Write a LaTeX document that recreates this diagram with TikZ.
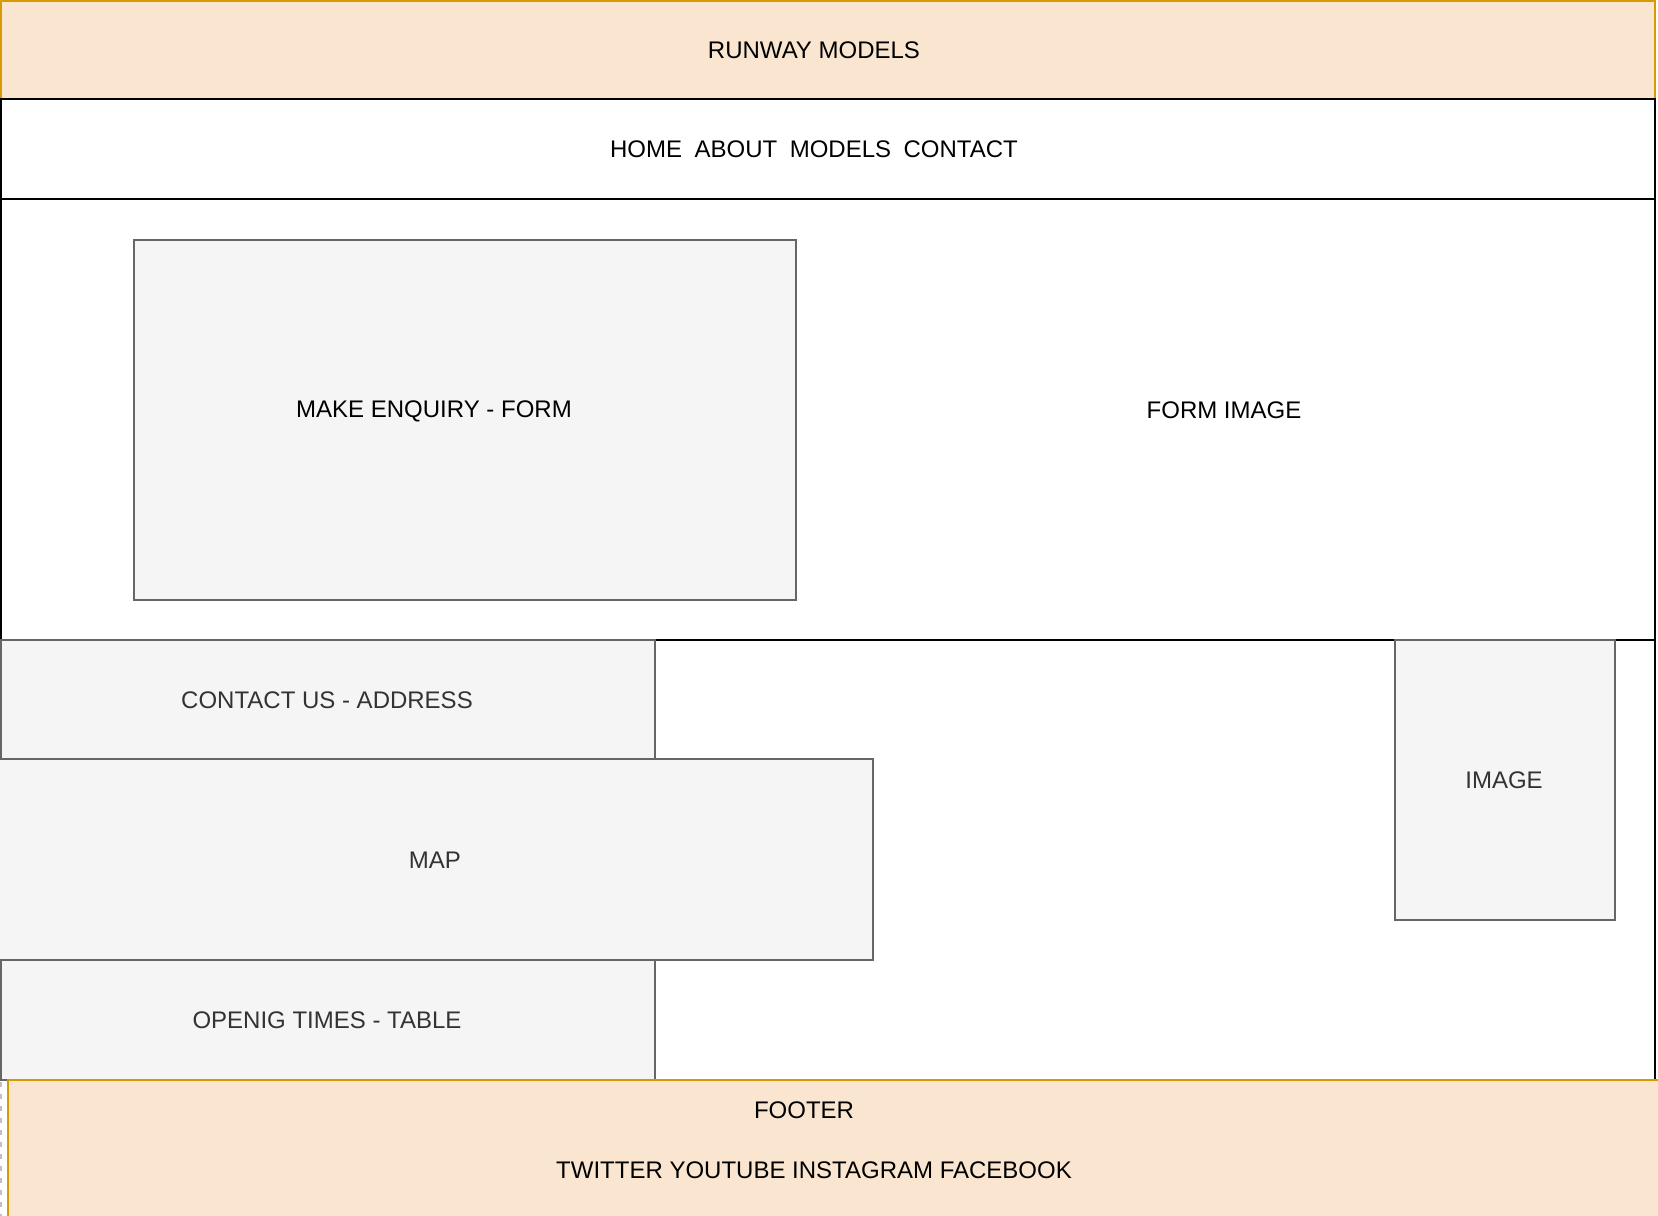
\documentclass[tikz,border=0pt]{standalone}
\usepackage{fontspec}
\setmainfont{Liberation Sans}
\definecolor{orfill}{HTML}{FAE6D0}
\definecolor{ordraw}{HTML}{D79B00}
\definecolor{grfill}{HTML}{F5F5F5}
\definecolor{grdraw}{HTML}{666666}
\definecolor{grtext}{HTML}{333333}
\tikzset{
  orbox/.style={fill=orfill, draw=ordraw, line width=2pt},
  blkbox/.style={fill=white, draw=black, line width=2pt},
  grbox/.style={fill=grfill, draw=grdraw, line width=2pt},
  lbl/.style={inner sep=0pt, font=\fontsize{24}{29}\selectfont, text=black},
  glbl/.style={lbl, text=grtext},
}
\begin{document}
\begin{tikzpicture}[x=1pt, y=-1pt]
\useasboundingbox (0,0) rectangle (1658,1216);
\clip (0,0) rectangle (1658,1216);
\fill[white] (0,0) rectangle (1658,1216);
% header
\path[orbox] (1,1) rectangle (1655,99);
\node[lbl] (title) at (814,50) {RUNWAY MODELS};
% nav
\path[blkbox] (1,99) rectangle (1655,199);
\node[lbl] (nav) at (814,149) {HOME\hspace{12.5pt}ABOUT\hspace{12.5pt}MODELS\hspace{12.5pt}CONTACT};
% main
\path[blkbox] (1,199) rectangle (1655,640);
\path[grbox] (134,240) rectangle (796,600);
\node[lbl] (form) at (434,411) {MAKE ENQUIRY - FORM};
\node[lbl] (formimg) at (1224,410) {FORM IMAGE};
% lower container
\path[blkbox] (1,640) rectangle (1655,1080);
\path[grbox] (1,640) rectangle (655,759);
\node[glbl] (contact) at (327,700) {CONTACT US - ADDRESS};
\path[grbox] (-5,759) rectangle (873,960);
\node[glbl] (map) at (435,860) {MAP};
\path[grbox] (1,960) rectangle (655,1080);
\node[glbl] (times) at (327,1020) {OPENIG TIMES - TABLE};
\path[grbox] (1395,640) rectangle (1615,920);
\node[glbl] (image) at (1504,780) {IMAGE};
% footer
\draw[gray!50, line width=2pt, dash pattern=on 5pt off 7pt] (1,1082) -- (1,1216);
\path[orbox] (8,1080) rectangle (1670,1230);
\node[lbl] (footer) at (804,1110) {FOOTER};
\node[lbl] (social) at (814,1170) {TWITTER YOUTUBE INSTAGRAM FACEBOOK};
\end{tikzpicture}
\end{document}
